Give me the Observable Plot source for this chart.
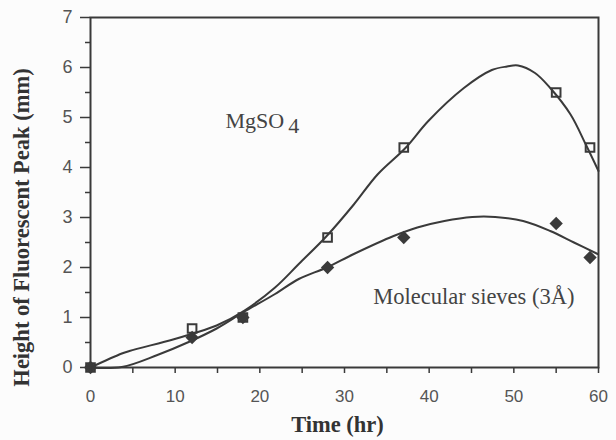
<!DOCTYPE html>
<html><head><meta charset="utf-8">
<script src="https://cdn.jsdelivr.net/npm/d3@7"></script>
<script src="https://cdn.jsdelivr.net/npm/@observablehq/plot@0.6"></script>
<style>
body{margin:0;background:#fcfcfc;}
#chart svg{background:#fcfcfc;}
</style></head><body><div id="chart"></div>
<script>
// Measured points
const mgTime = [0, 12, 18, 28, 37, 55, 59];
const mgHeight = [0, 0.78, 1.0, 2.6, 4.4, 5.5, 4.4];
const sieveTime = [0, 12, 18, 28, 37, 55, 59];
const sieveHeight = [0, 0.6, 1.0, 2.0, 2.6, 2.88, 2.2];
// Fitted curves
const mgCurveT = [0, 3.7, 4.6, 9.75, 12.1, 14.9, 18.1, 21.8, 24.6, 27.9, 31.1, 33.9, 37.2, 39.9, 44.1, 47.4, 49.2, 50.5, 52.5, 54.3, 56.7, 58.5, 60];
const mgCurveH = [0, 0.28, 0.33, 0.56, 0.68, 0.84, 1.13, 1.6, 2.07, 2.63, 3.26, 3.86, 4.39, 4.93, 5.59, 5.95, 6.02, 6.04, 5.89, 5.59, 5.06, 4.46, 3.93];
const sieveCurveT = [0, 3.7, 7.9, 11.6, 14.9, 18.1, 21.8, 24.6, 27.9, 31.1, 35.8, 38.6, 41.8, 45.1, 47.8, 51.1, 54.3, 57.1, 59.9];
const sieveCurveH = [0, 0.01, 0.25, 0.51, 0.78, 1.11, 1.47, 1.77, 2.0, 2.27, 2.63, 2.8, 2.93, 3.01, 3.01, 2.93, 2.73, 2.5, 2.27];
const xTicks = [0, 10, 20, 30, 40, 50, 60];
const yTicks = [0, 1, 2, 3, 4, 5, 6, 7];

const mgPts = mgTime.map((t, i) => ({t, h: mgHeight[i]}));
const sievePts = sieveTime.map((t, i) => ({t, h: sieveHeight[i]}));
const mgCurve = mgCurveT.map((t, i) => ({t, h: mgCurveH[i]}));
const sieveCurve = sieveCurveT.map((t, i) => ({t, h: sieveCurveH[i]}));

const ink = "#3a3a3a";
const serif = "'Liberation Serif', 'DejaVu Serif', serif";
const sans = "'Liberation Sans', Arial, sans-serif";

const chart = Plot.plot({
  width: 616, height: 440,
  marginLeft: 90, marginRight: 18, marginTop: 17, marginBottom: 73,
  style: {background: "#fcfcfc", color: ink},
  x: {domain: [0, 60]},
  y: {domain: [0, 7]},
  marks: [
    Plot.line(mgCurve, {x: "t", y: "h", curve: "catmull-rom", stroke: ink, strokeWidth: 2}),
    Plot.line(sieveCurve, {x: "t", y: "h", curve: "catmull-rom", stroke: ink, strokeWidth: 2}),
    Plot.dot(mgPts, {x: "t", y: "h", symbol: "square2", r: 5.5, stroke: ink, strokeWidth: 2, fill: "none"}),
    Plot.dot(sievePts, {x: "t", y: "h", symbol: "diamond2", r: 6, fill: ink, stroke: "none"}),
    // axes: minor ticks
    Plot.axisX(d3.range(0, 61, 5), {anchor: "bottom", tickSize: 6, tickFormat: () => "", stroke: ink, strokeWidth: 1.5, label: null}),
    Plot.axisX(xTicks, {anchor: "bottom", tickSize: 0, tickPadding: 22, tickFormat: d => String(d), fontSize: 17, fontFamily: sans, fill: "#555", label: null, style: {letterSpacing: "2px"}}),
    Plot.axisY(d3.range(0, 7.01, 0.5).filter(v => v % 1 !== 0), {anchor: "left", tickSize: 5, tickFormat: () => "", stroke: ink, strokeWidth: 1.5, label: null}),
    Plot.axisY(yTicks, {anchor: "left", tickSize: 10, tickPadding: 8, tickFormat: d => String(d), fontSize: 18, fontFamily: sans, fill: "#555", stroke: ink, strokeWidth: 1.5, label: null}),
    Plot.frame({stroke: ink, strokeWidth: 2}),
    Plot.text(["Height of Fluorescent Peak (mm)"], {frameAnchor: "left", textAnchor: "middle", rotate: -90, dx: -69, dy: 35, fontSize: 22.5, fontWeight: "bold", fontFamily: serif, fill: "#333"}),
    Plot.text(["Time (hr)"], {frameAnchor: "bottom", dx: -7, dy: 64, fontSize: 22.5, fontWeight: "bold", fontFamily: serif, fill: "#333"}),
    Plot.text(["Molecular sieves (3Å)"], {x: 33.4, y: 1.28, textAnchor: "start", lineAnchor: "bottom", fontSize: 22.5, fontFamily: serif, fill: "#444"})
  ]
});

// MgSO4 label with subscript as real text
const svg = d3.select(chart);
const xs = chart.scale("x"), ys = chart.scale("y");
const lab = svg.append("text")
  .attr("x", xs.apply(16)).attr("y", ys.apply(4.78))
  .attr("text-anchor", "start")
  .attr("font-family", serif).attr("font-size", 22).attr("fill", "#444");
lab.append("tspan").text("MgSO");
lab.append("tspan").attr("dy", 5).attr("dx", 4).text("4");

document.getElementById("chart").appendChild(chart);
</script></body></html>
